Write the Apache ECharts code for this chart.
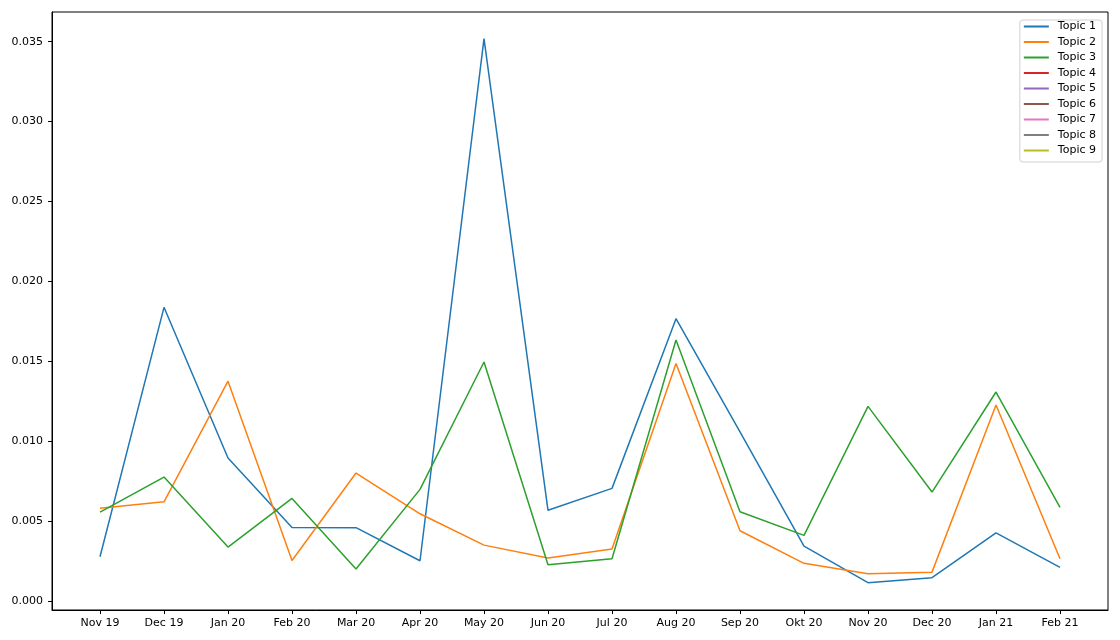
<!DOCTYPE html>
<html>
<head>
<meta charset="utf-8">
<script src="https://cdn.jsdelivr.net/npm/echarts@6/dist/echarts.min.js"></script>
<style>
  html, body { margin: 0; padding: 0; background: #fff; }
  #chart { width: 1120px; height: 640px; }
</style>
</head>
<body>
<div id="chart"></div>
<script>
// month labels along the x axis
var months = ["Nov 19", "Dec 19", "Jan 20", "Feb 20", "Mar 20", "Apr 20", "May 20", "Jun 20",
              "Jul 20", "Aug 20", "Sep 20", "Okt 20", "Nov 20", "Dec 20", "Jan 21", "Feb 21"];

var yTicks = [0, 0.005, 0.010, 0.015, 0.020, 0.025, 0.030, 0.035];

var topic1 = [0.00277, 0.01838, 0.00895, 0.00460, 0.00459, 0.00252, 0.03519, 0.00568,
              0.00705, 0.01767, 0.01058, 0.00344, 0.00115, 0.00146, 0.00427, 0.00211];
var topic2 = [0.00580, 0.00621, 0.01376, 0.00254, 0.00801, 0.00546, 0.00350, 0.00269,
              0.00325, 0.01487, 0.00440, 0.00236, 0.00171, 0.00181, 0.01227, 0.00265];
var topic3 = [0.00557, 0.00776, 0.00338, 0.00642, 0.00200, 0.00699, 0.01496, 0.00227,
              0.00265, 0.01633, 0.00559, 0.00411, 0.01218, 0.00682, 0.01308, 0.00586];
// topics 4-9 have nothing plotted, they only show up in the legend
var topic4 = [];
var topic5 = [];
var topic6 = [];
var topic7 = [];
var topic8 = [];
var topic9 = [];

var topicNames = ["Topic 1", "Topic 2", "Topic 3", "Topic 4", "Topic 5",
                  "Topic 6", "Topic 7", "Topic 8", "Topic 9"];
var topicValues = [topic1, topic2, topic3, topic4, topic5, topic6, topic7, topic8, topic9];
var colors = ["#1f77b4", "#ff7f0e", "#2ca02c", "#d62728", "#9467bd",
              "#8c564b", "#e377c2", "#7f7f7f", "#bcbd22"];

var font = "DejaVu Sans";

var series = [];
for (var i = 0; i < topicNames.length; i++) {
    var pts = [];
    for (var x = 0; x < topicValues[i].length; x++) {
        pts.push([x, topicValues[i][x]]);
    }
    series.push({
        name: topicNames[i],
        type: "line",
        data: pts,
        symbol: "none",
        animation: false,
        lineStyle: { width: 1.5, color: colors[i] },
        itemStyle: { color: colors[i] }
    });
}

var xIdx = [];
for (var k = 0; k < months.length; k++) xIdx.push(k);

var chart = echarts.init(document.getElementById("chart"));
chart.setOption({
    backgroundColor: "#fff",
    animation: false,
    color: colors,
    grid: {
        left: 52, right: 12, top: 12, bottom: 30,
        show: true, borderColor: "#000", borderWidth: 1
    },
    legend: {
        orient: "vertical",
        right: 18,
        top: 20,
        icon: "rect",
        itemWidth: 25,
        itemHeight: 2,
        itemGap: 2.5,
        padding: [0, 6, 5, 4],
        borderColor: "#d0d0d0",
        borderWidth: 1,
        borderRadius: 3,
        backgroundColor: "rgba(255,255,255,0.8)",
        textStyle: {
            fontFamily: font, fontSize: 11, lineHeight: 13, color: "#000",
            padding: [0, 0, 0, 4]
        },
        data: topicNames
    },
    xAxis: {
        type: "value",
        min: -0.75,
        max: 15.75,
        splitLine: { show: false },
        axisLine: { show: true, onZero: false, lineStyle: { color: "#000" } },
        axisTick: { show: true, length: 4, customValues: xIdx, lineStyle: { color: "#000" } },
        axisLabel: {
            customValues: xIdx,
            margin: 8,
            fontFamily: font,
            fontSize: 11,
            color: "#000",
            formatter: function (v) { return months[Math.round(v)]; }
        }
    },
    yAxis: {
        type: "value",
        min: -0.00056,
        max: 0.03686,
        splitLine: { show: false },
        axisLine: { show: true, onZero: false, lineStyle: { color: "#000" } },
        axisTick: { show: true, length: 4, customValues: yTicks, lineStyle: { color: "#000" } },
        axisLabel: {
            customValues: yTicks,
            margin: 9,
            fontFamily: font,
            fontSize: 11,
            color: "#000",
            formatter: function (v) { return v.toFixed(3); }
        }
    },
    series: series
});
</script>
</body>
</html>
